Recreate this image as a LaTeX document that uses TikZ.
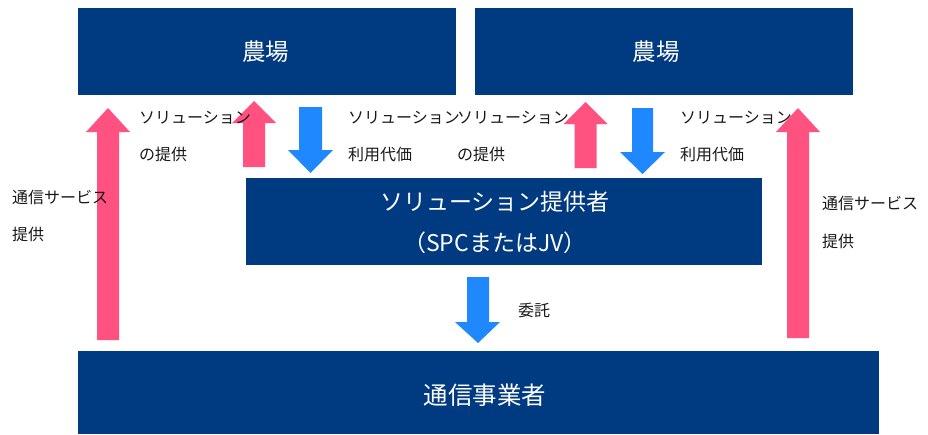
\documentclass[tikz,border=0pt]{standalone}
\usepackage{fontspec}
\setmainfont{Noto Sans CJK JP}
\definecolor{navy}{RGB}{0,58,128}
\definecolor{pinkarr}{RGB}{255,82,128}
\definecolor{bluearr}{RGB}{32,136,255}
\definecolor{txt}{RGB}{25,25,25}
\newcommand\blockup[5]{% color, xcenter, ytip, yheadbase, ybottom
  \fill[#1] (#2-11,#5) -- (#2-11,#4) -- (#2-22,#4) -- (#2,#3) -- (#2+22,#4) -- (#2+11,#4) -- (#2+11,#5) -- cycle;}
\begin{document}
\begin{tikzpicture}[x=1pt,y=-1pt,
  boxtxt/.style={text=white,font=\fontsize{23.5}{41}\selectfont,align=center,inner sep=0pt},
  lbl/.style={text=txt,font=\fontsize{16}{37.5}\selectfont,align=left,anchor=west,inner sep=0pt}]
\useasboundingbox (0,0) rectangle (928,434);
% boxes
\fill[navy] (78,8) rectangle (456,94.5);
\fill[navy] (475,8) rectangle (853,94.5);
\fill[navy] (246,178) rectangle (762,265);
\fill[navy] (78,350.5) rectangle (879,434);
\node[boxtxt] (farmL) at (265.5,52) {農場};
\node[boxtxt] (farmR) at (656,52) {農場};
\node[boxtxt,font=\fontsize{23}{41}\selectfont] (spc) at (495,222.5) {ソリューション提供者\\（SPCまたはJV）};
\node[boxtxt,font=\fontsize{24.5}{30}\selectfont] (tel) at (485,395) {通信事業者};
% up arrows
\blockup{pinkarr}{108}{108}{132}{340}
\blockup{pinkarr}{254}{101}{123}{167}
\blockup{pinkarr}{585.5}{102}{124}{168}
\blockup{pinkarr}{798}{108}{132}{338}
% down arrows
\fill[bluearr] (299,107) -- (299,150) -- (288,150) -- (310.5,173) -- (333,150) -- (322,150) -- (322,107) -- cycle;
\fill[bluearr] (632,108) -- (632,152) -- (620,152) -- (642.5,174) -- (665,152) -- (653,152) -- (653,108) -- cycle;
\fill[bluearr] (467,277) -- (467,322) -- (455,322) -- (478,343) -- (500,322) -- (489,322) -- (489,277) -- cycle;
% labels
\node[lbl] (l1) at (139,136.5) {ソリューション\\の提供};
\node[lbl] (l2) at (348,136.5) {ソリューション\\利用代価};
\node[lbl] (l3) at (457,136.5) {ソリューション\\の提供};
\node[lbl] (l4) at (680,136.5) {ソリューション\\利用代価};
\node[lbl] (l5) at (12,216) {通信サービス\\提供};
\node[lbl] (l6) at (822,222.5) {通信サービス\\提供};
\node[lbl] (l7) at (518,310) {委託};
\end{tikzpicture}
\end{document}
